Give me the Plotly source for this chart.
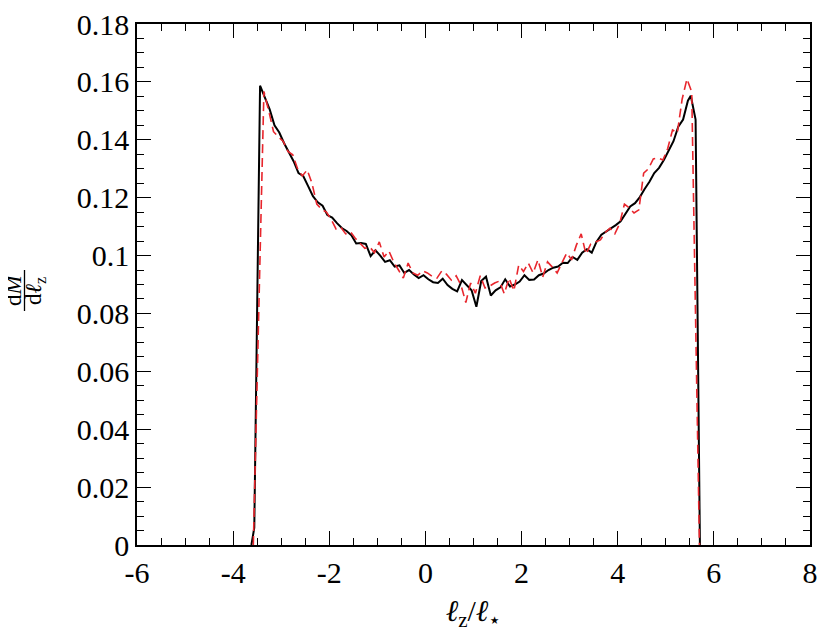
import plotly.graph_objects as go

# ---------------- data ----------------
# black solid series: bin grid starting at -3.44, step 0.1
black_start, black_step = -3.44, 0.1
black_vals = [
    0.1587, 0.1545, 0.1505, 0.1450, 0.1425, 0.1388, 0.1355, 0.1325, 0.1285, 0.1274,
    0.1240, 0.1205, 0.1184, 0.1172, 0.1140, 0.1131, 0.1112, 0.1095, 0.1085, 0.1070,
    0.1042, 0.1043, 0.1040, 0.0998, 0.1018, 0.1000, 0.0978, 0.0984, 0.0962, 0.0966,
    0.0940, 0.0950, 0.0935, 0.0922, 0.0932, 0.0918, 0.0908, 0.0905, 0.0920, 0.0898,
    0.0885, 0.0876, 0.0915, 0.0898, 0.0880, 0.0823, 0.0912, 0.0927, 0.0862, 0.0880,
    0.0890, 0.0918, 0.0893, 0.0900, 0.0910, 0.0932, 0.0916, 0.0917, 0.0932, 0.0938,
    0.0950, 0.0958, 0.0962, 0.0975, 0.0974, 0.0995, 0.0985, 0.1010, 0.1022, 0.1010,
    0.1048, 0.1072, 0.1082, 0.1092, 0.1105, 0.1118, 0.1142, 0.1170, 0.1181, 0.1202,
    0.1230, 0.1255, 0.1285, 0.1303, 0.1330, 0.1365, 0.1395, 0.1445, 0.1470, 0.1535,
]
black_left_x = [-3.62, -3.56]
black_left_y = [0.0, 0.006]
black_right_x = [5.52, 5.62, 5.71]
black_right_y = [0.1552, 0.147, 0.0]

# red dashed series: bin grid starting at -3.36, step 0.1
red_start, red_step = -3.36, 0.1
red_vals = [
    0.1567, 0.1500, 0.1428, 0.1410, 0.1395, 0.1360, 0.1348, 0.1300, 0.1275, 0.1296,
    0.1250, 0.1178, 0.1160, 0.1150, 0.1125, 0.1092, 0.1098, 0.1075, 0.1082, 0.1060,
    0.1043, 0.1025, 0.1030, 0.1010, 0.1047, 0.0995, 0.1016, 0.0978, 0.0950, 0.0922,
    0.0974, 0.0940, 0.0932, 0.0947, 0.0940, 0.0928, 0.0922, 0.0947, 0.0935, 0.0915,
    0.0930, 0.0898, 0.0838, 0.0905, 0.0870, 0.0930, 0.0888, 0.0895, 0.0905, 0.0912,
    0.0868, 0.0922, 0.0878, 0.0967, 0.0945, 0.0974, 0.0940, 0.0985, 0.0926, 0.0978,
    0.0960, 0.0940, 0.0975, 0.1009, 0.0985, 0.1036, 0.1075, 0.1005, 0.1040, 0.1048,
    0.1054, 0.1080, 0.1095, 0.1075, 0.1110, 0.1178, 0.1165, 0.1147, 0.1158, 0.1285,
    0.1300, 0.1334, 0.1337, 0.1330, 0.1370, 0.1434, 0.1424, 0.1540, 0.1610,
]
red_left_x = [-3.58]
red_left_y = [0.0]
red_right_x = [5.54, 5.70]
red_right_y = [0.1565, 0.0]

x_tickvals = [-6, -4, -2, 0, 2, 4, 6, 8]
x_ticktext = ["-6", "-4", "-2", "0", "2", "4", "6", "8"]
y_tickvals = [0, 0.02, 0.04, 0.06, 0.08, 0.1, 0.12, 0.14, 0.16, 0.18]
y_ticktext = ["0", "0.02", "0.04", "0.06", "0.08", "0.1", "0.12", "0.14", "0.16", "0.18"]

# ---------------- build ----------------
bx = black_left_x + [round(black_start + black_step * i, 3) for i in range(len(black_vals))] + black_right_x
by = black_left_y + black_vals + black_right_y
rx = red_left_x + [round(red_start + red_step * i, 3) for i in range(len(red_vals))] + red_right_x
ry = red_left_y + red_vals + red_right_y

W, H = 830, 640
OFF = 8  # page body margin
ML, MT = 137 - OFF, 24 - OFF
pw, ph = 673, 521
MR = W - ML - pw
MB = H - MT - ph

def px_to_paper_x(px):
    return (px - OFF - ML) / pw

def py_to_paper_y(py):
    return (OFF + MT + ph - py) / ph

fig = go.Figure()
fig.add_trace(go.Scatter(x=bx, y=by, mode="lines",
                         line=dict(color="black", width=2), showlegend=False))
fig.add_trace(go.Scatter(x=rx, y=ry, mode="lines",
                         line=dict(color="#e8262d", width=1.6, dash="9px,5px"),
                         showlegend=False))

font_family = "Liberation Serif"
axis_common = dict(
    showline=True, linecolor="black", linewidth=1.5, mirror="allticks",
    ticks="inside", ticklen=14, tickwidth=1.3, tickcolor="black",
    showgrid=False, zeroline=False, automargin=False,
    ticklabeloverflow="allow",
    tickfont=dict(family=font_family, size=30, color="black"),
)
fig.update_xaxes(range=[-6, 8], tickvals=x_tickvals, ticktext=x_ticktext,
                 minor=dict(dtick=0.5, tick0=0, ticks="inside", ticklen=7,
                            tickwidth=1.3, tickcolor="black"),
                 title=dict(text="<i>ℓ</i><sub>z</sub>/<i>ℓ</i><sub>⋆</sub>",
                            font=dict(family=font_family, size=30, color="black"),
                            standoff=12),
                 **axis_common)
fig.update_yaxes(range=[0, 0.18], tickvals=y_tickvals, ticktext=y_ticktext,
                 minor=dict(dtick=0.005, tick0=0, ticks="inside", ticklen=7,
                            tickwidth=1.3, tickcolor="black"),
                 **axis_common)

# y-axis title as a rotated fraction dM / dℓz
fig.add_annotation(text="d<i>M</i>", textangle=-90, showarrow=False,
                   xref="paper", yref="paper", borderpad=0,
                   x=px_to_paper_x(13), y=py_to_paper_y(289),
                   xanchor="center", yanchor="middle",
                   font=dict(family=font_family, size=23, color="black"))
fig.add_annotation(text="d<i>ℓ</i><sub>z</sub>", textangle=-90, showarrow=False,
                   xref="paper", yref="paper", borderpad=0,
                   x=px_to_paper_x(35), y=py_to_paper_y(291),
                   xanchor="center", yanchor="middle",
                   font=dict(family=font_family, size=23, color="black"))
fig.add_shape(type="line", xref="paper", yref="paper",
              x0=px_to_paper_x(24.5), x1=px_to_paper_x(24.5),
              y0=py_to_paper_y(270), y1=py_to_paper_y(311),
              line=dict(color="black", width=1.3))

fig.update_layout(
    width=W, height=H,
    margin=dict(l=ML, r=MR, t=MT, b=MB, autoexpand=False),
    plot_bgcolor="white", paper_bgcolor="white",
    font=dict(family=font_family, color="black"),
)

fig.write_html("out.html")
